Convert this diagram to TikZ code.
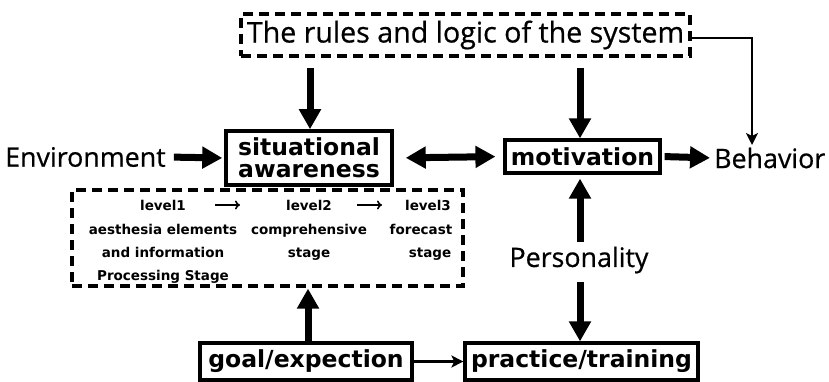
\documentclass[tikz,border=0pt]{standalone}
\usepackage{fontspec}
\setmainfont{Open Sans}[FakeBold=0.6]
\newfontfamily\boldf{DejaVu Sans}
\usetikzlibrary{arrows.meta,calc}
\tikzset{
  plain/.style={font=\fontsize{26.8}{28}\selectfont, inner sep=0pt},
  bx/.style={draw, line width=3.2pt, font=\boldf\bfseries\fontsize{23.5}{24}\selectfont, inner sep=0pt, align=center},
  dbox/.style={draw, line width=3.2pt, dash pattern=on 10pt off 6pt, inner sep=0pt},
  lvl/.style={font=\boldf\bfseries\fontsize{13.5}{14}\selectfont, inner sep=0pt, anchor=base},
  thick arrow/.style={line width=7pt, -{Triangle[width=21pt,length=20pt]}},
  thick both/.style={line width=7pt, {Triangle[width=21pt,length=20pt]}-{Triangle[width=21pt,length=20pt]}},
  thin arrow/.style={line width=2.4pt, -{Stealth[width=12pt,length=12pt,inset=3pt]}},
  small arrow/.style={line width=1.6pt, -{To[width=9pt,length=5pt,line width=1.6pt]}},
}
\begin{document}
\begin{tikzpicture}[x=1pt,y=-1pt]
\useasboundingbox (0,0) rectangle (829,382);
% top dashed box
\node[dbox, minimum width=449pt, minimum height=42pt, font=\fontsize{28.6}{30}\selectfont] (rules) at (465.5,35) {The rules and logic of the system};
% main boxes
\node[bx, line width=3.5pt, minimum width=166pt, minimum height=54pt] (sa) at (309,158) {situational\\[-2pt]awareness};
\node[bx, minimum width=155pt, minimum height=33pt] (mot) at (582.5,156.5) {motivation};
\node[plain, anchor=west] (env) at (5,157) {Environment};
\node[plain, anchor=west] (beh) at (714,158) {Behavior};
\node[dbox, minimum width=391pt, minimum height=96pt] (lv) at (267.5,238) {};
\node[plain] (pers) at (579,260) {Personality};
\node[bx, minimum width=212pt, minimum height=37pt] (goal) at (306,361.5) {goal/expection};
\node[bx, minimum width=233pt, minimum height=37pt] (prac) at (581.5,361.5) {practice/training};
% level texts (baselines)
\node[lvl] (l1) at (163,210) {level1};
\node[lvl] (l2) at (309,210) {level2};
\node[lvl] (l3) at (428,210) {level3};
\node[lvl] (t11) at (163,234) {aesthesia elements};
\node[lvl] (t12) at (163,257) {and information};
\node[lvl] (t13) at (163,280) {Processing Stage};
\node[lvl] (t21) at (309,234) {comprehensive};
\node[lvl] (t22) at (309,257) {stage};
\node[lvl] (t31) at (421,234) {forecast};
\node[lvl] (t32) at (430,257) {stage};
% small level arrows
\coordinate (a1s) at (215,205);
\coordinate (a1e) at (240,205);
\coordinate (a2s) at (357,205);
\coordinate (a2e) at (382,205);
\draw[small arrow] (a1s) -- (a1e);
\draw[small arrow] (a2s) -- (a2e);
% arrows
\coordinate (r1) at (310,68);
\coordinate (r2) at (580,68);
\draw[thick arrow] (r1) -- (sa.north -| r1);
\draw[thick arrow] (r2) -- (mot.north -| r2);
\coordinate (bc) at (752,38);
\draw[thin arrow] (rules.east |- bc) -- (bc) -- (752,145);
\draw[thick arrow, shorten <=8pt, shorten >=2pt] (env.east) -- (sa.west);
\draw[thick both, shorten <=12pt, shorten >=8pt] (sa.east) -- (mot.west);
\draw[thick arrow, shorten <=3pt, shorten >=4pt] (mot.east) -- (beh.west);
\coordinate (p1) at (580,242);
\coordinate (p2) at (580,282);
\draw[thick arrow, shorten >=4pt] (p1) -- (mot.south -| p1);
\draw[thick arrow] (p2) -- (prac.north -| p2);
\coordinate (g1) at (308,343);
\draw[thick arrow, shorten >=1pt] (g1) -- (lv.south -| g1);
\draw[thin arrow] (goal.east) -- (prac.west);
\end{tikzpicture}
\end{document}
